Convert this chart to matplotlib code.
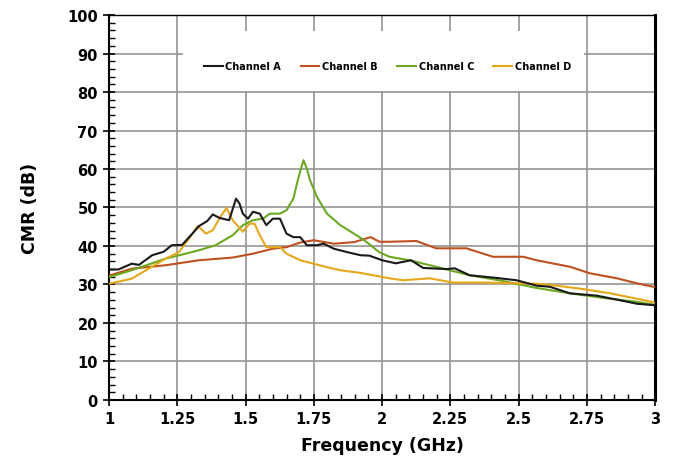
import matplotlib.pyplot as plt
from matplotlib.patches import Rectangle
from matplotlib.ticker import MultipleLocator

# frequency points (GHz) and CMR (dB)
freq_a = [1.0, 1.035, 1.083, 1.11, 1.158, 1.2, 1.23, 1.268, 1.305, 1.33, 1.36, 1.38, 1.404,
          1.44, 1.465, 1.478, 1.49, 1.509, 1.527, 1.552, 1.576, 1.60, 1.626, 1.65, 1.675,
          1.70, 1.724, 1.761, 1.786, 1.823, 1.872, 1.921, 1.953, 2.0, 2.05, 2.106, 2.15,
          2.235, 2.266, 2.32, 2.419, 2.492, 2.565, 2.614, 2.688, 2.786, 2.871, 2.933, 3.0]
cmr_a = [33.9, 33.9, 35.4, 35.1, 37.6, 38.5, 40.2, 40.3, 43.2, 45.2, 46.5, 48.2, 47.3,
         46.7, 52.3, 51.0, 48.4, 47.1, 48.9, 48.4, 45.4, 47.1, 47.1, 43.2, 42.3,
         42.3, 40.2, 40.2, 40.6, 39.3, 38.4, 37.6, 37.5, 36.3, 35.5, 36.3, 34.3,
         34.0, 34.2, 32.4, 31.7, 31.1, 29.7, 29.4, 27.7, 27.1, 25.9, 25.0, 24.6]

freq_b = [1.0, 1.083, 1.207, 1.33, 1.453, 1.527, 1.60, 1.65, 1.70, 1.749, 1.823, 1.897,
          1.958, 1.99, 2.027, 2.125, 2.198, 2.308, 2.406, 2.517, 2.565, 2.688, 2.761,
          2.86, 2.933, 3.0]
cmr_b = [32.3, 34.1, 35.0, 36.3, 37.0, 38.0, 39.3, 39.7, 40.9, 41.5, 40.6, 41.0,
         42.3, 41.1, 41.1, 41.3, 39.4, 39.4, 37.2, 37.2, 36.3, 34.6, 32.9,
         31.6, 30.3, 29.3]

freq_c = [1.0, 1.083, 1.207, 1.28, 1.33, 1.39, 1.453, 1.49, 1.527, 1.564, 1.589, 1.626,
          1.65, 1.675, 1.693, 1.712, 1.724, 1.736, 1.761, 1.798, 1.847, 1.897, 1.934,
          1.958, 1.989, 2.027, 2.1, 2.198, 2.32, 2.443, 2.565, 2.688, 2.81, 2.933, 3.0]
cmr_c = [31.9, 33.7, 36.7, 38.0, 38.9, 40.2, 42.8, 45.4, 46.7, 47.1, 48.4, 48.4,
         49.3, 52.3, 57.6, 62.3, 60.2, 57.1, 52.8, 48.4, 45.4, 43.2, 41.5,
         40.2, 38.4, 37.2, 36.3, 34.6, 32.4, 30.9, 29.1, 27.7, 26.5, 25.5, 24.7]

freq_d = [1.0, 1.083, 1.145, 1.207, 1.256, 1.293, 1.325, 1.355, 1.38, 1.404, 1.43, 1.453,
          1.49, 1.515, 1.533, 1.552, 1.576, 1.626, 1.65, 1.70, 1.749, 1.798, 1.847,
          1.921, 1.983, 2.027, 2.076, 2.174, 2.26, 2.38, 2.504, 2.565, 2.639, 2.737,
          2.835, 2.933, 3.0]
cmr_d = [30.2, 31.5, 34.1, 36.7, 38.4, 41.9, 45.2, 43.2, 44.1, 47.1, 49.9, 46.7,
         43.7, 45.8, 45.8, 42.8, 39.7, 39.7, 38.0, 36.3, 35.4, 34.5, 33.7,
         33.0, 32.2, 31.6, 31.1, 31.6, 30.5, 30.5, 30.3, 30.2, 29.7, 28.8,
         27.7, 26.3, 25.3]

x_ticks = [1, 1.25, 1.5, 1.75, 2, 2.25, 2.5, 2.75, 3]
x_labels = ['1', '1.25', '1.5', '1.75', '2', '2.25', '2.5', '2.75', '3']

plt.rcParams['font.family'] = 'DejaVu Sans'
plt.rcParams['font.weight'] = 'bold'

fig = plt.figure(figsize=(6.76, 4.64), dpi=100)
ax = fig.add_axes([0.1612, 0.1358, 0.8082, 0.8297])

ax.plot(freq_a, cmr_a, color='#1a1a1a', lw=1.5, label='Channel A', zorder=4)
ax.plot(freq_b, cmr_b, color='#c0501e', lw=1.5, label='Channel B', zorder=3)
ax.plot(freq_c, cmr_c, color='#6aaa1e', lw=1.5, label='Channel C', zorder=3)
ax.plot(freq_d, cmr_d, color='#e6a817', lw=1.5, label='Channel D', zorder=3)

ax.set_xlim(1, 3)
ax.set_ylim(0, 100)
ax.set_xticks(x_ticks)
ax.set_xticklabels(x_labels)
ax.set_yticks(range(0, 101, 10))
ax.xaxis.set_minor_locator(MultipleLocator(0.05))
ax.yaxis.set_minor_locator(MultipleLocator(2))

ax.grid(True, which='major', color='#959595', lw=1.2, zorder=0)
ax.set_axisbelow(True)

ax.tick_params(which='major', direction='inout', length=8, width=1.2,
               labelsize=10.5, pad=4, top=False, right=False)
ax.tick_params(which='minor', direction='in', length=4, width=1.0,
               top=False, right=False)

for s in ['left', 'bottom']:
    ax.spines[s].set_linewidth(1.5)
ax.spines['top'].set_linewidth(1.0)
ax.spines['right'].set_linewidth(2.2)

# white box behind the legend hides the grid
ax.add_patch(Rectangle((0.1355, 0.8026), 0.734, 0.1554, transform=ax.transAxes,
                       facecolor='white', edgecolor='none', zorder=1))
ax.legend(loc='center', bbox_to_anchor=(0.51, 0.8675), ncol=4, frameon=False,
          prop={'size': 7, 'weight': 'bold'}, handlelength=1.9, handletextpad=0.3,
          columnspacing=2.0)

ax.set_xlabel('Frequency (GHz)', fontsize=12.5, fontweight='bold', labelpad=7)
ax.set_ylabel('CMR (dB)', fontsize=12.5, fontweight='bold', labelpad=20)

fig.savefig('out.png', dpi=100)
